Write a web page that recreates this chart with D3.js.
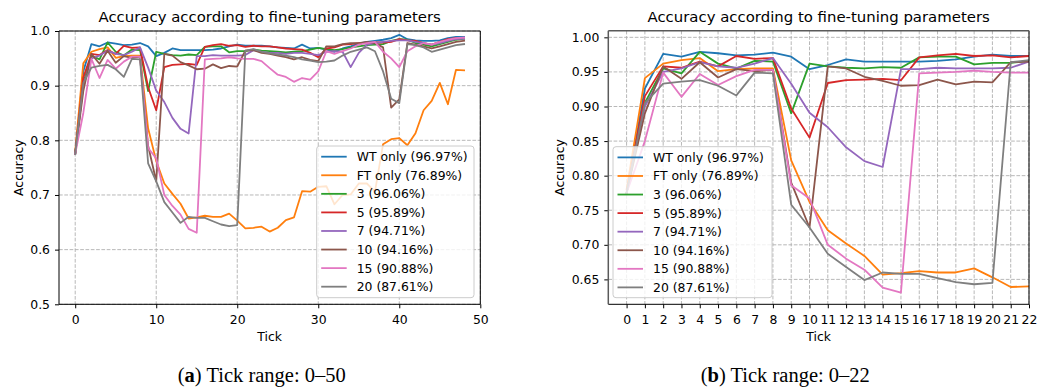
<!DOCTYPE html>
<html><head><meta charset="utf-8">
<script src="https://cdn.jsdelivr.net/npm/d3@7"></script>
<style>
body{margin:0;background:#fff;}
svg{display:block;}
text{font-family:"DejaVu Sans",sans-serif;fill:#000;}
</style></head><body>
<svg id="c" width="1047" height="390"></svg>
<script>
// ---------- data ----------
const ticks = [0,1,2,3,4,5,6,7,8,9,10,11,12,13,14,15,16,17,18,19,20,21,22,23,24,25,26,27,28,29,30,31,32,33,34,35,36,37,38,39,40,41,42,43,44,45,46,47,48];
const seriesNames = ["WT only (96.97%)","FT only (76.89%)","3 (96.06%)","5 (95.89%)","7 (94.71%)","10 (94.16%)","15 (90.88%)","20 (87.61%)"];
const seriesColors = ["#1f77b4","#ff7f0e","#2ca02c","#d62728","#9467bd","#8c564b","#e377c2","#7f7f7f"];

const wtOnly = [0.775,0.926,0.976,0.972,0.979,0.977,0.974,0.975,0.978,0.972,0.954,0.960,0.968,0.965,0.965,0.965,0.965,0.966,0.968,0.972,0.975,0.973,0.973,
  0.973,0.972,0.970,0.969,0.968,0.975,0.968,0.969,0.966,0.962,0.968,0.972,0.977,0.980,0.982,0.984,0.987,0.993,0.985,0.983,0.982,0.982,0.983,0.987,0.989,0.989];
const ftOnly = [0.780,0.941,0.962,0.967,0.970,0.951,0.954,0.955,0.955,0.822,0.762,0.721,0.702,0.684,0.657,0.659,0.662,0.660,0.660,0.666,0.653,0.639,0.640,
  0.642,0.633,0.640,0.654,0.659,0.707,0.706,0.715,0.716,0.683,0.700,0.701,0.721,0.721,0.706,0.793,0.802,0.804,0.791,0.813,0.855,0.872,0.905,0.866,0.929,0.928];
const ft3 = [0.775,0.905,0.955,0.948,0.979,0.962,0.955,0.966,0.965,0.890,0.962,0.958,0.956,0.955,0.957,0.956,0.971,0.972,0.972,0.961,0.963,0.963,0.966,
  0.964,0.963,0.962,0.961,0.962,0.963,0.966,0.969,0.967,0.965,0.967,0.970,0.972,0.974,0.975,0.976,0.982,0.985,0.984,0.978,0.975,0.972,0.976,0.980,0.984,0.986];
const ft5 = [0.775,0.915,0.958,0.956,0.965,0.958,0.973,0.969,0.970,0.897,0.855,0.934,0.938,0.939,0.940,0.938,0.971,0.974,0.976,0.973,0.974,0.971,0.973,
  0.972,0.972,0.970,0.968,0.967,0.966,0.960,0.952,0.968,0.970,0.975,0.976,0.978,0.978,0.979,0.979,0.980,0.985,0.983,0.982,0.978,0.975,0.980,0.985,0.987,0.987];
const ft7 = [0.775,0.900,0.950,0.955,0.964,0.958,0.956,0.962,0.970,0.933,0.891,0.870,0.841,0.821,0.8125,0.954,0.954,0.956,0.955,0.955,0.955,0.956,0.965,
  0.962,0.960,0.960,0.958,0.960,0.960,0.958,0.956,0.962,0.963,0.962,0.934,0.960,0.975,0.978,0.980,0.982,0.983,0.983,0.980,0.978,0.975,0.978,0.982,0.985,0.986];
const ft10 = [0.775,0.890,0.958,0.940,0.964,0.942,0.954,0.951,0.953,0.790,0.725,0.958,0.955,0.943,0.937,0.930,0.931,0.939,0.932,0.936,0.935,0.964,0.965,
  0.960,0.958,0.955,0.952,0.948,0.952,0.947,0.945,0.972,0.972,0.976,0.978,0.978,0.980,0.978,0.970,0.860,0.875,0.978,0.975,0.972,0.968,0.972,0.976,0.980,0.982];
const ft15 = [0.775,0.850,0.949,0.914,0.947,0.931,0.944,0.953,0.953,0.786,0.767,0.700,0.680,0.664,0.638,0.631,0.948,0.949,0.950,0.952,0.950,0.949,0.949,
  0.945,0.932,0.920,0.916,0.907,0.914,0.911,0.926,0.963,0.958,0.963,0.968,0.975,0.978,0.980,0.962,0.950,0.934,0.963,0.972,0.978,0.975,0.980,0.984,0.987,0.988];
const ft20 = [0.775,0.905,0.933,0.936,0.938,0.930,0.916,0.949,0.948,0.758,0.725,0.687,0.668,0.649,0.660,0.658,0.658,0.652,0.646,0.643,0.645,0.964,0.967,
  0.962,0.959,0.957,0.955,0.952,0.948,0.946,0.943,0.944,0.946,0.955,0.962,0.966,0.970,0.963,0.926,0.876,0.868,0.976,0.974,0.970,0.962,0.966,0.970,0.974,0.976];

const leftXTicks = [0,10,20,30,40,50];
const leftYTicks = [0.5,0.6,0.7,0.8,0.9,1.0];
const rightXTicks = [0,1,2,3,4,5,6,7,8,9,10,11,12,13,14,15,16,17,18,19,20,21,22];
const rightYTicks = [0.65,0.70,0.75,0.80,0.85,0.90,0.95,1.00];
const chartTitle = "Accuracy according to fine-tuning parameters";
const xLabel = "Tick", yLabel = "Accuracy";
const captions = [{tag:"a", text:" Tick range: 0\u201350"},{tag:"b", text:" Tick range: 0\u201322"}];

const allSeries = [wtOnly, ftOnly, ft3, ft5, ft7, ft10, ft15, ft20];

// ---------- drawing ----------
const svg = d3.select("#c");
const FS = 12.4;

function drawChart(cfg, idx) {
  const x = d3.scaleLinear().domain(cfg.xDomain).range([cfg.left, cfg.right]);
  const y = d3.scaleLinear().domain(cfg.yDomain).range([cfg.bottom, cfg.top]);
  const g = svg.append("g");
  const grid = g.append("g");
  grid.selectAll("line.gx").data(cfg.xTicks).join("line")
    .attr("x1", d => x(d)).attr("x2", d => x(d)).attr("y1", cfg.top).attr("y2", cfg.bottom)
    .attr("stroke", "#b0b0b0").attr("stroke-width", 0.9).attr("stroke-dasharray", "3.7,1.6");
  grid.selectAll("line.gy").data(cfg.yTicks).join("line")
    .attr("y1", d => y(d)).attr("y2", d => y(d)).attr("x1", cfg.left).attr("x2", cfg.right)
    .attr("stroke", "#b0b0b0").attr("stroke-width", 0.9).attr("stroke-dasharray", "3.7,1.6");

  const clipId = "clip" + idx;
  svg.append("clipPath").attr("id", clipId).append("rect")
    .attr("x", cfg.left).attr("y", cfg.top).attr("width", cfg.right - cfg.left).attr("height", cfg.bottom - cfg.top);

  const line = d3.line().x((d, i) => x(ticks[i])).y(d => y(d));
  const lg = g.append("g").attr("clip-path", `url(#${clipId})`);
  allSeries.forEach((s, k) => {
    lg.append("path").datum(s.slice(0, cfg.n)).attr("d", line)
      .attr("fill", "none").attr("stroke", seriesColors[k]).attr("stroke-width", 1.8)
      .attr("stroke-linejoin", "round").attr("stroke-linecap", "square");
  });

  const xa = g.append("g").attr("transform", `translate(0,${cfg.bottom})`)
    .call(d3.axisBottom(x).tickValues(cfg.xTicks).tickFormat(d3.format("d")).tickSize(4).tickPadding(6.7));
  const ya = g.append("g").attr("transform", `translate(${cfg.left},0)`)
    .call(d3.axisLeft(y).tickValues(cfg.yTicks).tickFormat(cfg.yFmt).tickSize(4).tickPadding(5));
  [xa, ya].forEach(a => {
    a.select(".domain").remove();
    a.selectAll("line").attr("stroke", "#000").attr("stroke-width", 1);
    a.selectAll("text").attr("font-size", FS).attr("font-family", "DejaVu Sans").attr("fill", "#000");
  });

  // spines
  const sp = g.append("g").attr("fill", "none");
  sp.append("line").attr("x1", cfg.left).attr("x2", cfg.right).attr("y1", cfg.bottom).attr("y2", cfg.bottom).attr("stroke", "#000").attr("stroke-width", 1);
  sp.append("line").attr("x1", cfg.right).attr("x2", cfg.right).attr("y1", cfg.top).attr("y2", cfg.bottom).attr("stroke", "#000").attr("stroke-width", 1);
  sp.append("line").attr("x1", cfg.left).attr("x2", cfg.right).attr("y1", cfg.top).attr("y2", cfg.top).attr("stroke", cfg.spineTL).attr("stroke-width", cfg.spineTLw);
  sp.append("line").attr("x1", cfg.left).attr("x2", cfg.left).attr("y1", cfg.top).attr("y2", cfg.bottom).attr("stroke", cfg.spineTL).attr("stroke-width", cfg.spineTLw);

  const cx = (cfg.left + cfg.right) / 2;
  g.append("text").attr("x", cx).attr("y", 22).attr("text-anchor", "middle").attr("font-size", 14.9).text(chartTitle);
  g.append("text").attr("x", cx).attr("y", 340.5).attr("text-anchor", "middle").attr("font-size", FS).text(xLabel);
  g.append("text").attr("transform", `translate(${cfg.ylabX},${(cfg.top + cfg.bottom) / 2}) rotate(-90)`)
    .attr("text-anchor", "middle").attr("font-size", FS).text(yLabel);

  // legend
  const L = cfg.legend;
  const leg = g.append("g");
  leg.append("rect").attr("x", L.x).attr("y", L.y).attr("width", L.w).attr("height", L.h).attr("rx", 3)
    .attr("fill", "#fff").attr("fill-opacity", 0.8).attr("stroke", "#cccccc").attr("stroke-width", 1);
  seriesNames.forEach((nm, k) => {
    const ry = L.y + 10.7 + k * 18.57;
    leg.append("line").attr("x1", L.x + 4.5).attr("x2", L.x + 30).attr("y1", ry).attr("y2", ry)
      .attr("stroke", seriesColors[k]).attr("stroke-width", 1.8);
    leg.append("text").attr("x", L.x + 40).attr("y", ry).attr("dy", "0.36em").attr("font-size", FS).text(nm);
  });
}

drawChart({left: 59, right: 480.3, top: 31, bottom: 304.3, xDomain: [-2, 50], yDomain: [0.5, 1.0],
  xTicks: leftXTicks, yTicks: leftYTicks, yFmt: d3.format(".1f"), n: 49, ylabX: 23,
  spineTL: "#000", spineTLw: 1,
  legend: {x: 316.7, y: 146, w: 157.3, h: 151.7}}, 0);
drawChart({left: 608.3, right: 1029, top: 30.7, bottom: 304.3, xDomain: [-1, 22], yDomain: [0.614, 1.0096],
  xTicks: rightXTicks, yTicks: rightYTicks, yFmt: d3.format(".2f"), n: 23, ylabX: 564,
  spineTL: "#5a5a5a", spineTLw: 1.5,
  legend: {x: 613, y: 146.7, w: 159, h: 151}}, 1);

// captions
const capX = [261.75, 785.25];
captions.forEach((c, i) => {
  const t = svg.append("text").attr("x", capX[i]).attr("y", 382).attr("text-anchor", "middle")
    .attr("font-size", 20.5).style("font-family", "'Liberation Serif', serif");
  t.append("tspan").text("(");
  t.append("tspan").attr("font-weight", "bold").text(c.tag);
  t.append("tspan").text(")");
  t.append("tspan").text(c.text);
});
</script>
</body></html>
